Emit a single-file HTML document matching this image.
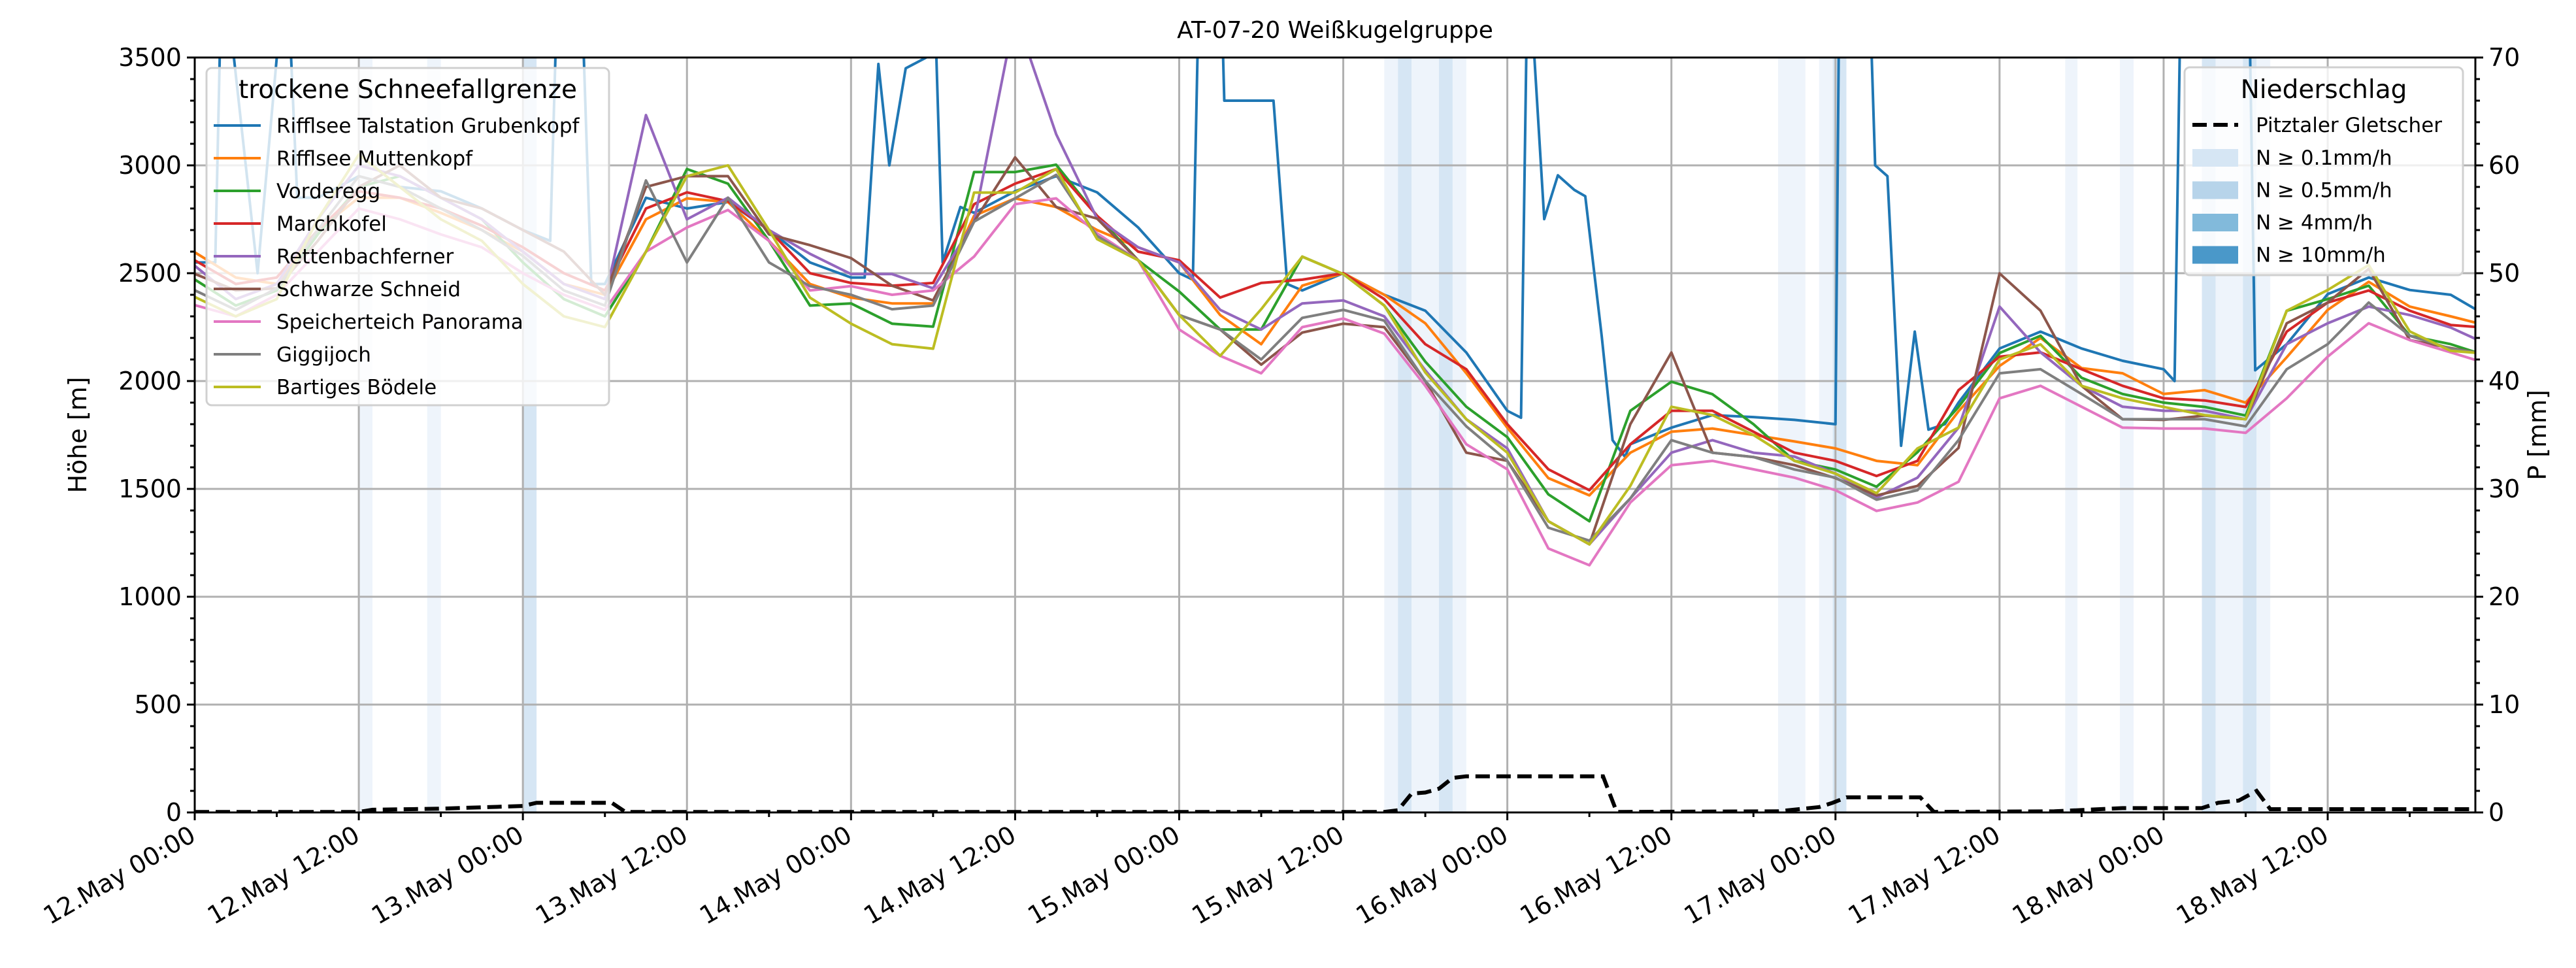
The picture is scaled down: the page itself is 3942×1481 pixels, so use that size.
<!DOCTYPE html>
<html><head><meta charset="utf-8"><title>AT-07-20 Weißkugelgruppe</title>
<style>html,body{margin:0;padding:0;background:#fff;}svg{display:block;font-family:"DejaVu Sans","Liberation Sans",sans-serif;}</style>
</head><body>
<svg id="chart" xmlns="http://www.w3.org/2000/svg" width="3942" height="1481" viewBox="0 0 3942 1481"></svg>
<script>
// ---- data ----
const hours = [0,3,6,9,12,15,18,21,24,27,30,33,36,39,42,45,48,51,54,57,60,63,66,69,72,75,78,81,84,87,90,93,96,99,102,105,108,111,114,117,120,123,126,129,132,135,138,141,144,147,150,153,156,159,162,165,167];
const seriesNames = ["Rifflsee Talstation Grubenkopf","Rifflsee Muttenkopf","Vorderegg","Marchkofel","Rettenbachferner","Schwarze Schneid","Speicherteich Panorama","Giggijoch","Bartiges Bödele"];
const seriesColors = ["#1f77b4","#ff7f0e","#2ca02c","#d62728","#9467bd","#8c564b","#e377c2","#7f7f7f","#bcbd22"];
const blueHours = [0,1.5,2,4.6,6.7,7.5,9,12,15,18,21,24,26,26.6,28.2,29,30,33,36,39,42,45,48,49,50,50.8,52,53.5,54,54.7,56,57,60,63,66,69,72,73,73.5,75,75.3,78.9,79.9,81,84,87,90,93,96,97,97.5,98.7,99.7,100.9,101.7,102.9,103.7,104.6,105,108,111,114,117,120,120.3,122.4,122.9,123.8,124.8,125.8,126.8,128,129,132,135,138,141,144,144.8,145.3,150.2,150.7,153,156,159,162,165,167];
const rifflseeTalstation = [2550,2550,4000,2500,4000,2850,2850,2950,2900,2880,2800,2700,2650,4000,4000,2450,2450,2850,2800,2830,2700,2550,2480,2480,3470,3000,3450,3500,4000,2550,2807,2780,2880,2950,2875,2712,2500,2470,4000,4000,3300,3300,2450,2420,2500,2400,2326,2132,1862,1830,4000,2751,2954,2886,2857,2210,1726,1649,1707,1784,1842,1833,1820,1800,4000,4000,3000,2950,1700,2229,1775,1800,1900,2151,2229,2151,2094,2055,2000,4000,4000,2050,2171,2403,2480,2422,2400,2326];
const rifflseeMuttenkopf = [2597,2480,2450,2700,2850,2850,2780,2700,2600,2450,2400,2750,2847,2830,2650,2450,2387,2360,2360,2766,2847,2807,2700,2620,2550,2306,2171,2442,2500,2400,2268,2036,1784,1550,1470,1668,1765,1780,1750,1720,1688,1630,1610,1860,2070,2200,2060,2036,1940,1958,1900,2110,2330,2460,2345,2300,2268];
const vorderegg = [2471,2350,2420,2680,2900,2950,2850,2750,2550,2380,2300,2600,2983,2915,2650,2350,2360,2266,2252,2969,2969,3003,2766,2560,2415,2239,2239,2577,2496,2350,2090,1881,1740,1475,1350,1862,1997,1939,1800,1630,1590,1510,1670,1880,2130,2210,2015,1940,1900,1880,1840,2326,2380,2442,2210,2171,2130];
const marchkofel = [2560,2450,2480,2700,2880,2850,2800,2720,2620,2500,2420,2800,2875,2834,2700,2500,2455,2442,2455,2820,2915,2983,2766,2600,2560,2387,2455,2470,2500,2380,2171,2055,1800,1591,1494,1707,1862,1862,1765,1668,1630,1560,1630,1958,2113,2133,2055,1978,1920,1910,1880,2229,2364,2420,2326,2260,2250];
const rettenbachferner = [2535,2380,2450,2750,3000,2950,2850,2750,2600,2450,2380,3233,2750,2850,2700,2590,2496,2496,2430,2739,3700,3145,2753,2620,2550,2330,2239,2360,2374,2300,2050,1823,1688,1350,1243,1456,1668,1726,1668,1650,1571,1460,1552,1784,2345,2133,1978,1881,1862,1862,1823,2171,2268,2345,2306,2248,2190];
const schwarzeSchneid = [2497,2420,2430,2650,2900,3000,2850,2800,2700,2600,2400,2900,2950,2950,2680,2630,2570,2442,2374,2739,3037,2807,2753,2560,2306,2239,2076,2225,2266,2250,2000,1668,1630,1350,1243,1800,2132,1668,1648,1610,1550,1470,1514,1690,2499,2326,1978,1823,1820,1840,1823,2268,2364,2520,2190,2153,2130];
const speicherteich = [2352,2300,2400,2600,2800,2750,2680,2620,2500,2400,2330,2600,2712,2793,2650,2420,2440,2400,2420,2577,2820,2847,2685,2560,2239,2117,2036,2250,2290,2220,1978,1707,1591,1224,1146,1437,1610,1630,1591,1552,1494,1398,1437,1533,1920,1978,1881,1784,1780,1780,1760,1920,2113,2268,2190,2133,2094];
const giggijoch = [2421,2330,2430,2700,2950,2900,2800,2700,2580,2420,2350,2930,2550,2850,2550,2440,2400,2333,2350,2739,2847,2956,2672,2560,2306,2239,2100,2293,2330,2280,2000,1790,1630,1320,1260,1456,1726,1668,1648,1590,1552,1450,1494,1726,2036,2055,1940,1823,1823,1823,1790,2055,2171,2364,2210,2150,2130];
const bartigesBoedele = [2390,2300,2380,2750,3050,2900,2750,2650,2450,2300,2250,2600,2950,3000,2700,2387,2266,2171,2150,2874,2874,2983,2658,2560,2306,2117,2333,2577,2496,2350,2040,1823,1668,1350,1243,1514,1881,1842,1750,1630,1571,1480,1688,1784,2100,2170,1978,1920,1880,1842,1823,2326,2422,2538,2230,2140,2130];
const seriesValues = [rifflseeTalstation,rifflseeMuttenkopf,vorderegg,marchkofel,rettenbachferner,schwarzeSchneid,speicherteich,giggijoch,bartigesBoedele];
const seriesHours = [blueHours,hours,hours,hours,hours,hours,hours,hours,hours];
const precipHours = [0,12,13,18,24,25,30.5,31.5,87,88,89,90,91,92,93,103,104,115.8,118.8,119.8,120.8,126.2,127.2,136,141,146.8,148,149.5,150.8,151.8,166.8];
const precipValues = [0.05,0.05,0.25,0.35,0.6,0.9,0.9,0.05,0.05,0.2,1.75,1.85,2.2,3.2,3.35,3.35,0.05,0.1,0.5,0.9,1.4,1.4,0.05,0.1,0.4,0.4,0.9,1.1,2.0,0.3,0.3];
const bandStart = [12,17,24,87,88,89,91,92,115.8,118.8,119.8,136.8,140.8,146.8,147.8,149.8,150.8];
const bandEnd   = [13,18,25,88,89,91,92,93,117.8,119.8,120.8,137.7,141.8,147.8,149.8,150.8,151.8];
const bandLevel = [1,1,2,1,2,1,2,1,1,1,2,1,1,2,1,2,1];
const xTickLabels = ["12.May 00:00","12.May 12:00","13.May 00:00","13.May 12:00","14.May 00:00","14.May 12:00","15.May 00:00","15.May 12:00","16.May 00:00","16.May 12:00","17.May 00:00","17.May 12:00","18.May 00:00","18.May 12:00"];
const yTicks = [0,500,1000,1500,2000,2500,3000,3500];
const y2Ticks = [0,10,20,30,40,50,60,70];

// ---- layout ----
const L=298,R=3788,T=88,B=1243,XMAX=166.8;
const xs=h=>L+(R-L)*h/XMAX;
const ys=v=>B-(B-T)*v/3500;
const ys2=v=>B-(B-T)*v/70;
const NS="http://www.w3.org/2000/svg";
const svg=document.getElementById('chart');
function mk(tag,attrs,parent){const e=document.createElementNS(NS,tag);for(const k in attrs)e.setAttribute(k,attrs[k]);(parent||svg).appendChild(e);return e;}
const defs=mk('defs',{});
const cp=mk('clipPath',{id:'clip'},defs);mk('rect',{x:L,y:T,width:R-L,height:B-T},cp);

const title=mk('text',{x:(L+R)/2,y:58,'text-anchor':'middle','font-size':36});
title.textContent='AT-07-20 Weißkugelgruppe';



const bandG=mk('g',{'clip-path':'url(#clip)'});


bandStart.forEach((s,i)=>{
  const r=mk('rect',{x:xs(s),y:T,width:xs(bandEnd[i])-xs(s),height:B-T,fill:bandLevel[i]===1?'#eef4fb':'#d6e6f4'},bandG);
  
  
});

const grid=mk('g',{stroke:'#b0b0b0','stroke-width':3});


xTickLabels.forEach((t,i)=>{const x=xs(i*12);mk('line',{x1:x,x2:x,y1:T,y2:B},grid);});
yTicks.forEach(v=>{mk('line',{x1:L,x2:R,y1:ys(v),y2:ys(v)},grid);});

const lineG=mk('g',{'clip-path':'url(#clip)',fill:'none','stroke-width':4,'stroke-linejoin':'round'});
seriesValues.forEach((vals,si)=>{
  const hh=seriesHours[si];
  const d=vals.map((v,i)=>(i?'L':'M')+xs(hh[i]).toFixed(1)+' '+ys(v).toFixed(1)).join(' ');
  const p=mk('path',{d:d,stroke:seriesColors[si]},lineG);
  
  
});
const pd=precipValues.map((v,i)=>(i?'L':'M')+xs(precipHours[i]).toFixed(1)+' '+ys2(v).toFixed(1)).join(' ');
const pl=mk('path',{d:pd,stroke:'#000','stroke-width':6,'stroke-dasharray':'22 10',fill:'none','clip-path':'url(#clip)'});



const frame=mk('rect',{x:L,y:T,width:R-L,height:B-T,fill:'none',stroke:'#000','stroke-width':3});



const tg=mk('g',{stroke:'#000','stroke-width':3});


for(let h=0;h<=XMAX;h+=6){const x=xs(h);mk('line',{x1:x,x2:x,y1:B,y2:B+(h%12===0?12:7)},tg);}
for(let v=0;v<=3500;v+=100){mk('line',{x1:L,x2:L-(v%500===0?12:7),y1:ys(v),y2:ys(v)},tg);}
for(let v=0;v<=70;v+=2){mk('line',{x1:R,x2:R+(v%10===0?12:7),y1:ys2(v),y2:ys2(v)},tg);}

const lab=mk('g',{'font-size':38});
yTicks.forEach(v=>{const t=mk('text',{x:L-20,y:ys(v)+13,'text-anchor':'end'},lab);t.textContent=v;
  
  });
y2Ticks.forEach(v=>{const t=mk('text',{x:R+20,y:ys2(v)+13,'text-anchor':'start'},lab);t.textContent=v;
  
  });
xTickLabels.forEach((s,i)=>{const x=xs(i*12)+4,y=1285;
  const t=mk('text',{x:x,y:y,'text-anchor':'end',transform:`rotate(-30 ${x} ${y})`},lab);t.textContent=s;
  
  });
const yl=mk('text',{x:0,y:0,'text-anchor':'middle',transform:`translate(132 ${(T+B)/2}) rotate(-90)`},lab);yl.textContent='Höhe [m]';


const y2l=mk('text',{x:0,y:0,'text-anchor':'middle',transform:`translate(3896 ${(T+B)/2}) rotate(-90)`},lab);y2l.textContent='P [mm]';



const lg1=mk('g',{});


mk('rect',{x:316,y:104,width:616,height:516,rx:8,fill:'#fff','fill-opacity':0.8,stroke:'#d0d0d0','stroke-width':3},lg1);
const lt1=mk('text',{x:624,y:150,'text-anchor':'middle','font-size':39},lg1);lt1.textContent='trockene Schneefallgrenze';
seriesNames.forEach((n,i)=>{const y=192+i*50;
  const e=mk('g',{},lg1);
  
  
  mk('line',{x1:327,x2:399,y1:y,y2:y,stroke:seriesColors[i],'stroke-width':4},e);
  const t=mk('text',{x:423,y:y+11,'font-size':31},e);t.textContent=n;});

const lg2=mk('g',{});


mk('rect',{x:3343,y:103,width:426,height:318,rx:8,fill:'#fff','fill-opacity':0.8,stroke:'#d0d0d0','stroke-width':3},lg2);
const lt2=mk('text',{x:3556,y:150,'text-anchor':'middle','font-size':39},lg2);lt2.textContent='Niederschlag';
const pe=mk('g',{},lg2);


mk('line',{x1:3355,x2:3425,y1:191,y2:191,stroke:'#000','stroke-width':6,'stroke-dasharray':'22 10'},pe);
const pt=mk('text',{x:3452,y:202,'font-size':31},pe);pt.textContent='Pitztaler Gletscher';
const swatchColors=['#d6e6f4','#b7d4ea','#82badb','#4a98c9'];
const swatchLabels=['N ≥ 0.1mm/h','N ≥ 0.5mm/h','N ≥ 4mm/h','N ≥ 10mm/h'];
swatchLabels.forEach((s,i)=>{const y=241+i*49.5;
  const e=mk('g',{},lg2);
  
  
  mk('rect',{x:3355,y:y-13,width:70,height:27,fill:swatchColors[i]},e);
  const t=mk('text',{x:3452,y:y+11,'font-size':31},e);t.textContent=s;});
</script>
</body></html>
